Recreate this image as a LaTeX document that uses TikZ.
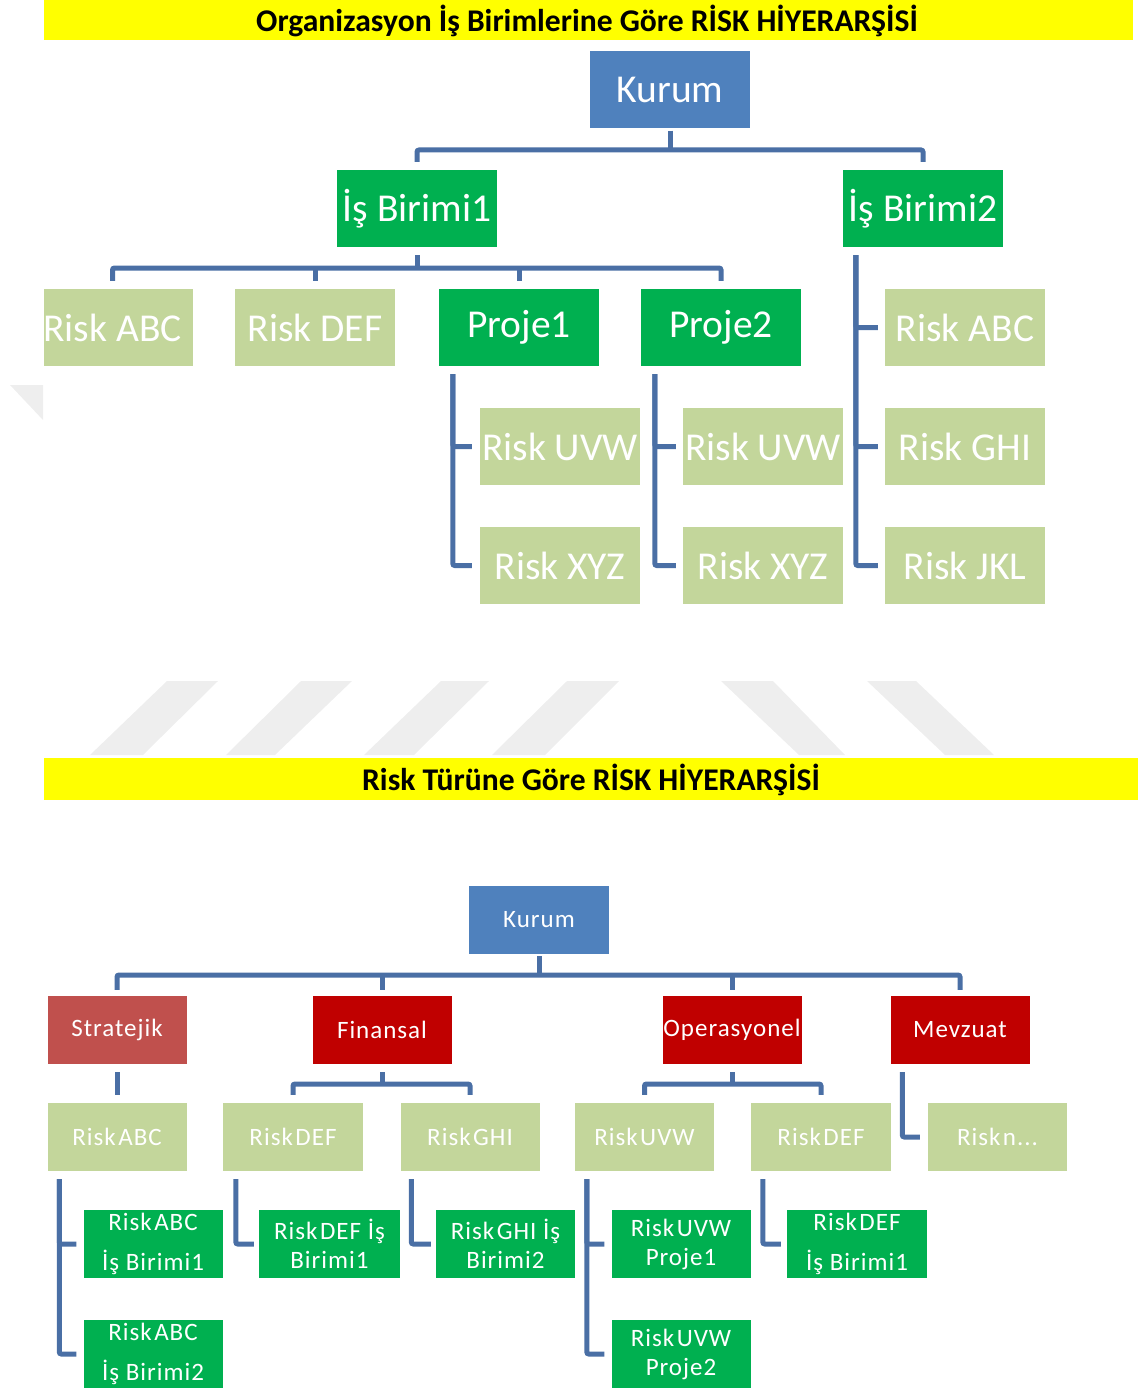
\documentclass[tikz,border=0pt]{standalone}
\usepackage{fontspec}
\setmainfont{Carlito}
\newfontfamily\trackfont[LetterSpace=4]{Carlito}
\usetikzlibrary{calc}
\definecolor{kblue}{HTML}{4F81BD}
\definecolor{bgreen}{HTML}{00B050}
\definecolor{lgreen}{HTML}{C3D69B}
\definecolor{connc}{HTML}{4A6FA5}
\definecolor{dred}{HTML}{C00000}
\definecolor{sred}{HTML}{C0504D}
\definecolor{wmark}{HTML}{EEEEEE}
\definecolor{titlebg}{RGB}{255,255,0}
\newcommand\rsk{Risk\kern2.5pt}
\begin{document}
\begin{tikzpicture}[x=1pt,y=-1pt,
 bx/.style={rectangle, inner sep=0pt, text=white, align=center},
 bigbox/.style={bx, minimum width=160pt, minimum height=77pt, font=\fontsize{39.5}{42}\selectfont},
 smallbox/.style={bx, minimum width=139pt, minimum height=68pt, font=\trackfont\fontsize{25}{29}\selectfont},
 conn/.style={draw=connc, line width=5pt, rounded corners=2pt},
 titletext/.style={font=\bfseries\fontsize{31.6}{33}\selectfont, text=black, inner sep=0pt}
]
\useasboundingbox (0,0) rectangle (1138,1388);
% watermark
\path[fill=wmark] (90,755) -- (143,755) -- (218,681) -- (167,681) -- cycle;
\path[fill=wmark] (226,755) -- (275,755) -- (352,681) -- (301,681) -- cycle;
\path[fill=wmark] (364,755) -- (414,755) -- (489,681) -- (441,681) -- cycle;
\path[fill=wmark] (492,755) -- (545,755) -- (619,681) -- (567,681) -- cycle;
\path[fill=wmark] (799,755) -- (845,755) -- (773,681) -- (721,681) -- cycle;
\path[fill=wmark] (945,755) -- (994,755) -- (916,681) -- (867,681) -- cycle;
\path[fill=wmark] (10,385) -- (43,385) -- (43,420) -- cycle;

% titles
\path[fill=titlebg] (44,0) rectangle (1133,40);
\node[titletext] (t1) at (587,21) {Organizasyon İş Birimlerine Göre RİSK HİYERARŞİSİ};
\path[fill=titlebg] (44,758) rectangle (1138,800);
\node[titletext] (t2) at (591,780) {Risk Türüne Göre RİSK HİYERARŞİSİ};

% ===== top hierarchy =====
\node[bigbox, fill=kblue] (k1) at (670,90) {Kurum};
\node[bigbox, fill=bgreen] (ib1) at (417,208.5) {İş Birimi1};
\node[bigbox, fill=bgreen] (ib2) at (923,208.5) {İş Birimi2};
\path[fill=lgreen] (44,289) rectangle (193,366);
\node[bigbox] (ra) at (112.5,327.5) {Risk ABC};
\node[bigbox, fill=lgreen] (rd) at (315,327.5) {Risk DEF};
\node[bigbox, fill=bgreen] (p1) at (519,327.5) {Proje1};
\node[bigbox, fill=bgreen] (p2) at (721,327.5) {Proje2};
\node[bigbox, fill=lgreen] (p1a) at (560,446.5) {Risk UVW};
\node[bigbox, fill=lgreen] (p1b) at (560,565.5) {Risk XYZ};
\node[bigbox, fill=lgreen] (p2a) at (763,446.5) {Risk UVW};
\node[bigbox, fill=lgreen] (p2b) at (763,565.5) {Risk XYZ};
\node[bigbox, fill=lgreen] (i2a) at (965,327.5) {Risk ABC};
\node[bigbox, fill=lgreen] (i2b) at (965,446.5) {Risk GHI};
\node[bigbox, fill=lgreen] (i2c) at (965,565.5) {Risk JKL};

\coordinate (bus1) at (670,150);
\draw[conn] ([yshift=-2pt]k1.south) -- (bus1);
\draw[conn] ([yshift=8pt]ib1.north) |- (bus1) -| ([yshift=8pt]ib2.north);
\coordinate (bus2) at (417,268);
\draw[conn] ([yshift=-8pt]ib1.south) -- (bus2);
\draw[conn] ([yshift=8pt]ra.north) |- (bus2) -| ([yshift=8pt]p2.north);
\draw[conn] ([yshift=8pt]rd.north) -- (rd.north |- bus2);
\draw[conn] ([yshift=8pt]p1.north) -- (p1.north |- bus2);

\coordinate (v1) at ([xshift=14pt,yshift=-8pt]p1.south west);
\draw[conn] (v1) |- ([xshift=-8pt]p1b.west);
\draw[conn] (v1) |- ([xshift=-8pt]p1a.west);
\coordinate (v2) at ([xshift=14pt,yshift=-8pt]p2.south west);
\draw[conn] (v2) |- ([xshift=-7pt]p2b.west);
\draw[conn] (v2) |- ([xshift=-7pt]p2a.west);
\coordinate (v3) at ([xshift=13pt,yshift=-8pt]ib2.south west);
\draw[conn] (v3) |- ([xshift=-7pt]i2c.west);
\draw[conn] (v3) |- ([xshift=-7pt]i2b.west);
\draw[conn] (v3) |- ([xshift=-7pt]i2a.west);

% ===== bottom hierarchy =====
\node[smallbox, fill=kblue, minimum width=140pt] (k2) at (539,920) {Kurum};
\node[smallbox, fill=sred] (st) at (117,1030) {Stratejik};
\node[smallbox, fill=dred] (fi) at (382,1030) {Finansal};
\node[smallbox, fill=dred] (op) at (732,1030) {Operasyonel};
\node[smallbox, fill=dred] (me) at (960,1030) {Mevzuat};

\node[smallbox, fill=lgreen] (s1) at (117,1137) {\rsk ABC};
\node[smallbox, fill=lgreen, minimum width=140pt] (f1) at (293,1137) {\rsk DEF};
\node[smallbox, fill=lgreen] (f2) at (470,1137) {\rsk GHI};
\node[smallbox, fill=lgreen] (o1) at (644.5,1137) {\rsk UVW};
\node[smallbox, fill=lgreen, minimum width=140pt] (o2) at (821,1137) {\rsk DEF};
\node[smallbox, fill=lgreen] (m1) at (997.5,1137) {\rsk n...};

\node[smallbox, fill=bgreen] (s1a) at (153,1244) {\rsk ABC\\[11pt]İş Birimi1};
\node[smallbox, fill=bgreen] (s1b) at (153,1354) {\rsk ABC\\[11pt]İş Birimi2};
\node[smallbox, fill=bgreen, minimum width=141pt] (f1a) at (329.5,1244) {\rsk DEF İş\\Birimi1};
\node[smallbox, fill=bgreen] (f2a) at (505.5,1244) {\rsk GHI İş\\Birimi2};
\node[smallbox, fill=bgreen] (o1a) at (681,1244) {\rsk UVW\\Proje1};
\node[smallbox, fill=bgreen] (o1b) at (681,1354) {\rsk UVW\\Proje2};
\node[smallbox, fill=bgreen, minimum width=140pt] (o2a) at (857,1244) {\rsk DEF\\[11pt]İş Birimi1};

\coordinate (bus3) at (539,975);
\draw[conn] ([yshift=-2pt]k2.south) -- (bus3);
\draw[conn] ([yshift=6pt]st.north) |- (bus3) -| ([yshift=6pt]me.north);
\draw[conn] ([yshift=6pt]fi.north) -- (fi.north |- bus3);
\draw[conn] ([yshift=6pt]op.north) -- (op.north |- bus3);

\coordinate (bus4) at (382,1084);
\draw[conn] ([yshift=-8pt]fi.south) -- (bus4);
\draw[conn] ([yshift=8pt]f1.north) |- (bus4) -| ([yshift=8pt]f2.north);
\coordinate (bus5) at (732,1084);
\draw[conn] ([yshift=-8pt]op.south) -- (bus5);
\draw[conn] ([yshift=8pt]o1.north) |- (bus5) -| ([yshift=8pt]o2.north);
\draw[conn] ([yshift=-8pt]st.south) -- ([yshift=8pt]s1.north);
\draw[conn] ([xshift=12pt,yshift=-8pt]me.south west) |- ([xshift=-8pt]m1.west);

\coordinate (w1) at ([xshift=12pt,yshift=-8pt]s1.south west);
\draw[conn] (w1) |- ([xshift=-7pt]s1b.west);
\draw[conn] (w1) |- ([xshift=-7pt]s1a.west);
\draw[conn] ([xshift=13pt,yshift=-8pt]f1.south west) |- ([xshift=-5pt]f1a.west);
\draw[conn] ([xshift=11pt,yshift=-8pt]f2.south west) |- ([xshift=-5pt]f2a.west);
\coordinate (w2) at ([xshift=12pt,yshift=-8pt]o1.south west);
\draw[conn] (w2) |- ([xshift=-7pt]o1b.west);
\draw[conn] (w2) |- ([xshift=-7pt]o1a.west);
\draw[conn] ([xshift=12pt,yshift=-8pt]o2.south west) |- ([xshift=-6pt]o2a.west);
\end{tikzpicture}
\end{document}
